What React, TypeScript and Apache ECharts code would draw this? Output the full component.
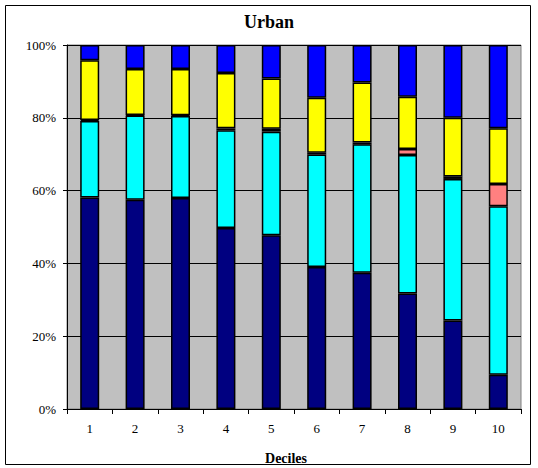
import React, { useEffect, useRef } from "react";
import * as echarts from "echarts";

const deciles = ["1", "2", "3", "4", "5", "6", "7", "8", "9", "10"];
const navyValues = [58.1, 57.5, 58.0, 49.7, 47.7, 39.0, 37.4, 31.7, 24.3, 9.4];
const cyanValues = [21.0, 23.1, 22.5, 26.9, 28.5, 30.9, 35.3, 38.1, 38.9, 46.3];
const pinkValues = [0.3, 0.2, 0.2, 0.5, 0.8, 0.5, 0.5, 1.6, 0.7, 6.1];
const yellowValues = [16.4, 12.6, 12.7, 15.2, 13.8, 15.1, 16.5, 14.4, 16.1, 15.3];
const blueValues = [4.2, 6.6, 6.6, 7.7, 9.2, 14.5, 10.3, 14.2, 20.0, 22.9];

const seriesDefs = [
  { name: "navy", data: navyValues, color: "#000080" },
  { name: "cyan", data: cyanValues, color: "#00FFFF" },
  { name: "pink", data: pinkValues, color: "#FF8080" },
  { name: "yellow", data: yellowValues, color: "#FFFF00" },
  { name: "blue", data: blueValues, color: "#0000FF" },
];

const serif = "'Liberation Serif', 'Times New Roman', serif";

export default function App() {
  const ref = useRef<HTMLDivElement>(null);
  useEffect(() => {
    if (!ref.current) return;
    const chart = echarts.init(ref.current, undefined, { renderer: "svg" });
    chart.setOption({
      animation: false,
      backgroundColor: "#FFFFFF",
      grid: {
        left: 67,
        right: 17,
        top: 45,
        bottom: 59,
        show: true,
        backgroundColor: "#C0C0C0",
        borderColor: "#808080",
        borderWidth: 1,
      },
      xAxis: {
        type: "category",
        data: deciles,
        boundaryGap: true,
        axisLine: { lineStyle: { color: "#000000", width: 1 } },
        axisTick: { show: true, length: 5, alignWithLabel: false, lineStyle: { color: "#000000" } },
        axisLabel: { color: "#000000", fontFamily: serif, fontSize: 13, margin: 13 },
        splitLine: { show: false },
      },
      yAxis: {
        type: "value",
        min: 0,
        max: 100,
        interval: 20,
        axisLine: { show: true, lineStyle: { color: "#000000", width: 1 } },
        axisTick: { show: true, length: 4, lineStyle: { color: "#000000" } },
        axisLabel: {
          color: "#000000",
          fontFamily: serif,
          fontSize: 13,
          margin: 11,
          formatter: "{value}%",
        },
        splitLine: { show: true, lineStyle: { color: "#000000", width: 1 } },
      },
      series: seriesDefs.map((s) => ({
        name: s.name,
        type: "bar",
        stack: "total",
        data: s.data,
        barWidth: 19,
        itemStyle: { color: s.color, borderColor: "#000000", borderWidth: 1.5 },
      })),
      graphic: [
        {
          type: "rect",
          shape: { x: 5.5, y: 5.5, width: 525, height: 459 },
          style: { fill: "none", stroke: "#000000", lineWidth: 1 },
          silent: true,
        },
        {
          type: "text",
          x: 269,
          y: 22,
          style: {
            text: "Urban",
            fontFamily: serif,
            fontWeight: "bold",
            fontSize: 18,
            fill: "#000000",
            textAlign: "center",
            textVerticalAlign: "middle",
          },
        },
        {
          type: "text",
          x: 286,
          y: 458,
          style: {
            text: "Deciles",
            fontFamily: serif,
            fontWeight: "bold",
            fontSize: 14,
            fill: "#000000",
            textAlign: "center",
            textVerticalAlign: "middle",
          },
        },
      ],
    });
    return () => chart.dispose();
  }, []);
  return (
    <div
      ref={ref}
      style={{ position: "absolute", left: 0, top: 0, width: 538, height: 468 }}
    />
  );
}
